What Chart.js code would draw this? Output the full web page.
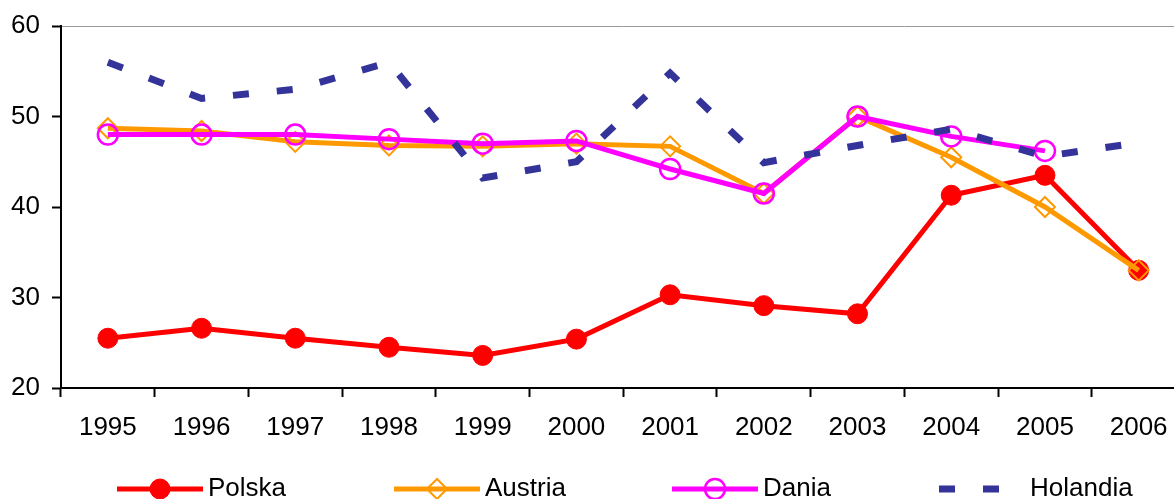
<!DOCTYPE html>
<html>
<head>
<meta charset="utf-8">
<script src="https://cdn.jsdelivr.net/npm/chart.js@4"></script>
<style>
  body { margin: 0; overflow: hidden; background: #fff; }
  #wrap { width: 1198px; height: 499px; }
</style>
</head>
<body>
<div id="wrap"><canvas id="c" width="1198" height="499" style="width:1198px;height:499px"></canvas></div>
<script>
// Lata i wartości
const years = ['1995', '1996', '1997', '1998', '1999', '2000', '2001', '2002', '2003', '2004', '2005', '2006'];
const polska   = [25.5, 26.6, 25.5, 24.5, 23.6, 25.4, 30.3, 29.1, 28.2, 41.3, 43.5, 33.0];
const austria  = [48.7, 48.4, 47.2, 46.8, 46.7, 47.0, 46.7, 41.5, 50.0, 45.5, 40.0, 33.0];
const dania    = [48.0, 48.0, 48.0, 47.5, 47.0, 47.3, 44.2, 41.5, 50.0, 47.8, 46.2, null];
const holandia = [56.0, 52.0, 53.0, 56.0, 43.2, 45.0, 54.8, 44.9, 46.8, 48.6, 45.6, 47.1];
const yTicks = [20, 30, 40, 50, 60];

const FONT = 'Liberation Sans, Arial, sans-serif';

// Legenda rysowana ręcznie: linia z markerem jak w Excelu
const legendX = [117, 394, 672, 939];
const legendPlugin = {
    id: 'lineLegend',
    afterDraw(chart) {
        const ctx = chart.ctx;
        const y = 489;
        chart.data.datasets.forEach((ds, i) => {
            const x0 = legendX[i];
            ctx.save();
            ctx.strokeStyle = ds.borderColor;
            ctx.lineWidth = ds.borderWidth;
            ctx.lineCap = 'butt';
            ctx.setLineDash(ds.borderDash || []);
            ctx.beginPath();
            ctx.moveTo(x0, y);
            ctx.lineTo(x0 + 86, y);
            ctx.stroke();
            ctx.setLineDash([]);
            if (ds.pointRadius > 0) {
                ctx.fillStyle = ds.pointBackgroundColor;
                ctx.strokeStyle = ds.pointBorderColor;
                ctx.lineWidth = ds.pointBorderWidth;
                Chart.helpers.drawPoint(ctx, {
                    pointStyle: ds.pointStyle,
                    radius: ds.pointRadius,
                    rotation: 0,
                    borderWidth: ds.pointBorderWidth
                }, x0 + 43, y);
            }
            ctx.fillStyle = '#000';
            ctx.font = '26px ' + FONT;
            ctx.textBaseline = 'middle';
            ctx.textAlign = 'left';
            ctx.fillText(ds.label, x0 + 91, y);
            ctx.restore();
        });
    }
};

const ctx = document.getElementById('c').getContext('2d');
new Chart(ctx, {
    type: 'line',
    data: {
        labels: years,
        datasets: [{
            label: 'Polska',
            data: polska,
            borderColor: '#FF0000',
            borderWidth: 5,
            pointStyle: 'circle',
            pointRadius: 10,
            pointBackgroundColor: '#FF0000',
            pointBorderColor: '#FF0000',
            pointBorderWidth: 1,
            order: 4
        }, {
            label: 'Austria',
            data: austria,
            borderColor: '#FF9900',
            borderWidth: 5,
            pointStyle: 'rectRot',
            pointRadius: 10,
            pointBackgroundColor: 'rgba(0,0,0,0)',
            pointBorderColor: '#FF9900',
            pointBorderWidth: 2,
            order: 3
        }, {
            label: 'Dania',
            data: dania,
            borderColor: '#FF00FF',
            borderWidth: 5,
            pointStyle: 'circle',
            pointRadius: 10,
            pointBackgroundColor: 'rgba(0,0,0,0)',
            pointBorderColor: '#FF00FF',
            pointBorderWidth: 2.5,
            order: 2
        }, {
            label: 'Holandia',
            data: holandia,
            borderColor: '#333399',
            borderWidth: 7,
            borderDash: [16, 28],
            borderCapStyle: 'butt',
            pointRadius: 0,
            order: 1
        }]
    },
    options: {
        responsive: false,
        animation: false,
        devicePixelRatio: 1,
        layout: { padding: { top: 26, right: 0, left: 0, bottom: 0 } },
        elements: { line: { tension: 0 } },
        plugins: {
            legend: { display: false },
            tooltip: { enabled: false }
        },
        scales: {
            x: {
                offset: true,
                grid: {
                    offset: true,
                    drawOnChartArea: false,
                    tickLength: 9,
                    tickColor: '#000',
                    tickWidth: 2
                },
                border: { color: '#000', width: 2 },
                ticks: {
                    color: '#000',
                    padding: 15,
                    maxRotation: 0,
                    autoSkip: false,
                    font: { family: FONT, size: 26 }
                },
                afterFit(scale) {
                    scale.height = 111;
                    scale.paddingLeft = 0;
                    scale.paddingRight = 0;
                }
            },
            y: {
                min: 20,
                max: 60,
                afterBuildTicks(scale) { scale.ticks = yTicks.map(v => ({ value: v })); },
                grid: {
                    color: c => (c.tick && c.tick.value === 60) ? '#9a9a9a' : 'rgba(0,0,0,0)',
                    lineWidth: 1,
                    tickLength: 9,
                    tickColor: '#000',
                    tickWidth: 2
                },
                border: { color: '#000', width: 2 },
                ticks: {
                    color: '#000',
                    padding: 12,
                    font: { family: FONT, size: 26 }
                },
                afterFit(scale) {
                    scale.width = 61;
                    scale.paddingTop = 0;
                    scale.paddingBottom = 0;
                }
            }
        }
    },
    plugins: [legendPlugin]
});
</script>
</body>
</html>
